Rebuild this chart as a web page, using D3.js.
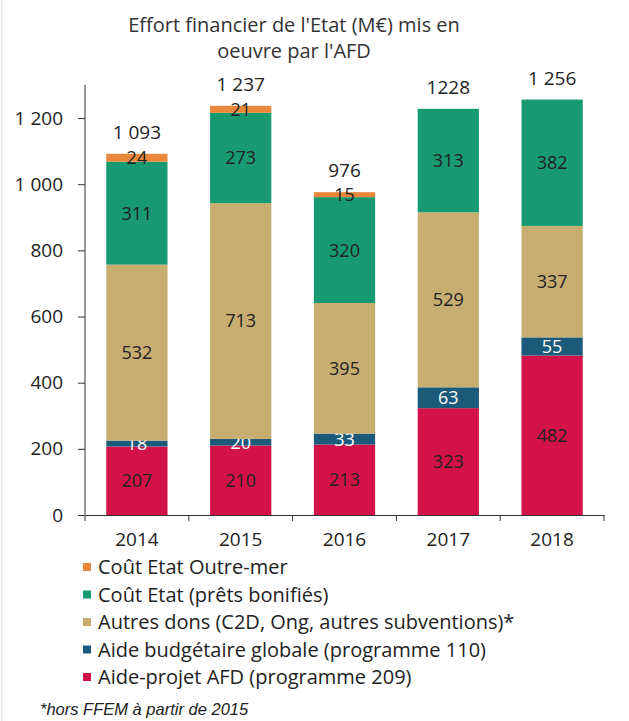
<!DOCTYPE html>
<html><head><meta charset="utf-8">
<script src="https://cdn.jsdelivr.net/npm/d3@7"></script>
<style>body{margin:0;background:#fff}svg{display:block}</style>
</head><body>
<script>
const years = ["2014","2015","2016","2017","2018"];
const aideProjet = [207,210,213,323,482];
const aideBudgetaire = [18,20,33,63,55];
const autresDons = [532,713,395,529,337];
const pretsBonifies = [311,273,320,313,382];
const outreMer = [24,21,15,0,0];
const totalLabels = ["1 093","1 237","976","1228","1 256"];
const seriesNames = ["Aide-projet AFD (programme 209)","Aide budgétaire globale (programme 110)","Autres dons (C2D, Ong, autres subventions)*","Coût Etat (prêts bonifiés)","Coût Etat Outre-mer"];
const yTicks = [0,200,400,600,800,1000,1200];
const colors = ["#d3124a","#1c5a7a","#c8ad71","#179a72","#ea873a"];
const labelColors = ["#222","#fff","#222","#222","#222"];
const seriesValues = [aideProjet,aideBudgetaire,autresDons,pretsBonifies,outreMer];

const W=629,H=721;
const font = "'Open Sans', sans-serif";
const svg = d3.select("body").append("svg").attr("width",W).attr("height",H);

svg.append("line").attr("x1",2).attr("x2",2).attr("y1",0).attr("y2",H).attr("stroke","#ddd");

const x = d3.scaleBand().domain(years).range([85,604]).paddingInner(0.41).paddingOuter(0.205);
const y = d3.scaleLinear().domain([0,1300]).range([515,85]);

const rows = years.map((yr,i)=>{const o={year:yr}; seriesNames.forEach((s,k)=>o[s]=seriesValues[k][i]); return o;});
const stacked = d3.stack().keys(seriesNames)(rows);

// title
svg.append("text").attr("x",294).attr("y",32).attr("text-anchor","middle")
  .style("font-family",font).style("font-size","20px").attr("fill","#333")
  .text("Effort financier de l'Etat (M€) mis en");
svg.append("text").attr("x",294).attr("y",58).attr("text-anchor","middle")
  .style("font-family",font).style("font-size","20px").attr("fill","#333")
  .text("oeuvre par l'AFD");

// bars
stacked.forEach((layer,k)=>{
  const g = svg.append("g");
  g.selectAll("rect").data(layer).join("rect")
    .attr("x",d=>x(d.data.year)).attr("width",x.bandwidth())
    .attr("y",d=>y(d[1])).attr("height",d=>y(d[0])-y(d[1]))
    .attr("fill",colors[k]);
  g.selectAll("text").data(layer.filter(d=>d[1]-d[0]>0)).join("text")
    .attr("x",d=>x(d.data.year)+x.bandwidth()/2)
    .attr("y",d=>(y(d[0])+y(d[1]))/2).attr("dy","0.36em")
    .attr("text-anchor","middle")
    .style("font-family",font).style("font-size","18px").attr("fill",labelColors[k])
    .text(d=>d[1]-d[0]);
});

// totals
const totals = years.map((yr,i)=>d3.sum(seriesValues,s=>s[i]));
svg.append("g").selectAll("text").data(years).join("text")
  .attr("x",d=>x(d)+x.bandwidth()/2).attr("y",(d,i)=>y(totals[i])-15)
  .attr("text-anchor","middle").style("font-family",font).style("font-size","19px").attr("fill","#222")
  .text((d,i)=>totalLabels[i]);

// y axis
const yAxis = svg.append("g").attr("transform","translate(85,0)")
  .call(d3.axisLeft(y).tickValues(yTicks).tickSize(7).tickPadding(15).tickFormat(d=>d3.format(",")(d).replace(","," ")));
yAxis.select(".domain").attr("d","M0,85V515");
yAxis.selectAll("text").style("font-family",font).style("font-size","19px").attr("fill","#222");
yAxis.selectAll("line,path").attr("stroke","#333");

// x axis
const xAxis = svg.append("g").attr("transform","translate(0,515)")
  .call(d3.axisBottom(x).tickSize(0).tickPadding(18));
xAxis.select(".domain").attr("stroke","#333");
xAxis.selectAll("text").style("font-family",font).style("font-size","19px").attr("fill","#222");
xAxis.selectAll(".sep").data(d3.range(years.length+1)).join("line")
  .attr("x1",i=>85+i*(604-85)/years.length).attr("x2",i=>85+i*(604-85)/years.length)
  .attr("y1",0).attr("y2",6).attr("stroke","#333");

// legend
const legendOrder = [4,3,2,1,0];
const lg = svg.append("g");
legendOrder.forEach((k,j)=>{
  const cy = 567 + j*27.5;
  lg.append("rect").attr("x",83).attr("y",cy-4).attr("width",8).attr("height",8).attr("fill",colors[k]);
  lg.append("text").attr("x",98).attr("y",cy).attr("dy","0.36em")
    .style("font-family",font).style("font-size","20px").attr("fill","#222").text(seriesNames[k]);
});

svg.append("text").attr("x",40).attr("y",715).style("font-family","'Liberation Sans', Arial, sans-serif")
  .style("font-size","16.5px").style("font-style","italic").attr("fill","#222").text("*hors FFEM à partir de 2015");
</script>
</body></html>
